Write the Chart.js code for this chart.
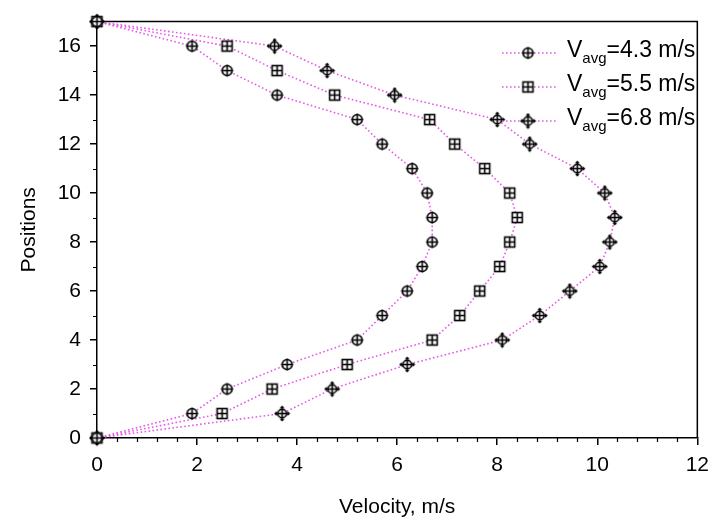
<!DOCTYPE html>
<html lang="en">
<head>
<meta charset="UTF-8">
<title>Velocity profiles</title>
<script src="https://cdn.jsdelivr.net/npm/chart.js"></script>
<style>
    body { margin: 0; background: #fff; }
    canvas { display: block; }
</style>
</head>
<body>
<canvas id="profileChart" width="717" height="525"></canvas>
<script>
// positions along the section (y axis)
const positions = [0, 1, 2, 3, 4, 5, 6, 7, 8, 9, 10, 11, 12, 13, 14, 15, 16, 17];

// velocity read for each position, one array per average speed
const vel43 = [0, 1.9, 2.6, 3.8, 5.2, 5.7, 6.2, 6.5, 6.7, 6.7, 6.6, 6.3, 5.7, 5.2, 3.6, 2.6, 1.9, 0];
const vel55 = [0, 2.5, 3.5, 5.0, 6.7, 7.25, 7.65, 8.05, 8.25, 8.4, 8.25, 7.75, 7.15, 6.65, 4.75, 3.6, 2.6, 0];
const vel68 = [0, 3.7, 4.7, 6.2, 8.1, 8.85, 9.45, 10.05, 10.25, 10.35, 10.15, 9.6, 8.65, 8.0, 5.95, 4.6, 3.55, 0];

const seriesAvg = ['4.3', '5.5', '6.8'];

const xTicks = [0, 2, 4, 6, 8, 10, 12];
const yTicks = [0, 2, 4, 6, 8, 10, 12, 14, 16];

const FONT = "'Liberation Sans', Arial, sans-serif";
const LINE_COLOR = '#e65ae6';

// marker images
function makeMarker(kind) {
    const c = document.createElement('canvas');
    c.width = 17;
    c.height = 17;
    const g = c.getContext('2d');
    g.translate(8.5, 8.5);
    g.strokeStyle = '#000';
    g.fillStyle = '#fff';
    g.lineWidth = 1.6;
    if (kind === 'square') {
        g.fillRect(-5, -5, 10, 10);
        g.strokeRect(-5, -5, 10, 10);
        g.beginPath();
        g.moveTo(-5, 0); g.lineTo(5, 0);
        g.moveTo(0, -5); g.lineTo(0, 5);
        g.stroke();
    } else {
        const r = kind === 'circle' ? 5 : 4.3;
        const arm = kind === 'circle' ? 6 : 7.2;
        g.beginPath();
        g.arc(0, 0, r, 0, Math.PI * 2);
        g.fill();
        g.stroke();
        g.beginPath();
        g.moveTo(-arm, 0); g.lineTo(arm, 0);
        g.moveTo(0, -arm); g.lineTo(0, arm);
        g.stroke();
        if (kind === 'arrow') {
            g.fillStyle = '#000';
            for (let k = 0; k < 4; k++) {
                g.save();
                g.rotate(k * Math.PI / 2);
                g.beginPath();
                g.moveTo(arm + 0.8, 0);
                g.lineTo(arm - 2, -2.4);
                g.lineTo(arm - 2, 2.4);
                g.closePath();
                g.fill();
                g.restore();
            }
        }
    }
    return c;
}

const markers = [makeMarker('circle'), makeMarker('square'), makeMarker('arrow')];

function toPoints(vals) {
    return vals.map((v, i) => ({ x: v, y: positions[i] }));
}

function makeDataset(vals, idx) {
    return {
        label: 'Vavg=' + seriesAvg[idx] + ' m/s',
        data: toPoints(vals),
        showLine: true,
        borderColor: LINE_COLOR,
        borderWidth: 1.6,
        borderDash: [1.6, 2.4],
        tension: 0,
        pointStyle: markers[idx],
        pointRadius: 6,
        clip: false
    };
}

// frame on top/right plus minor ticks
const framePlugin = {
    id: 'frame',
    beforeDatasetsDraw(chart) {
        const { ctx, chartArea: a, scales } = chart;
        ctx.save();
        ctx.strokeStyle = '#000';
        ctx.lineWidth = 1.5;
        ctx.beginPath();
        ctx.moveTo(a.left, a.top);
        ctx.lineTo(a.right, a.top);
        ctx.lineTo(a.right, a.bottom);
        ctx.stroke();

        ctx.lineWidth = 1.2;
        ctx.beginPath();
        for (let v = 0.4; v < 12; v += 0.4) {
            if (Math.abs(v / 2 - Math.round(v / 2)) < 0.01) continue;
            const px = Math.round(scales.x.getPixelForValue(v)) + 0.5;
            ctx.moveTo(px, a.bottom);
            ctx.lineTo(px, a.bottom + 4);
        }
        for (let v = 1; v < 17; v += 2) {
            const py = Math.round(scales.y.getPixelForValue(v)) + 0.5;
            ctx.moveTo(a.left, py);
            ctx.lineTo(a.left - 4, py);
        }
        ctx.stroke();
        ctx.restore();
    }
};

// legend with subscript text
const legendPlugin = {
    id: 'subLegend',
    afterDraw(chart) {
        const { ctx } = chart;
        const rowTop = 53, rowGap = 34;
        ctx.save();
        chart.data.datasets.forEach((ds, i) => {
            const y = rowTop + i * rowGap;
            ctx.strokeStyle = LINE_COLOR;
            ctx.lineWidth = 1.6;
            ctx.setLineDash([1.6, 2.4]);
            ctx.beginPath();
            ctx.moveTo(502, y);
            ctx.lineTo(556, y);
            ctx.stroke();
            ctx.setLineDash([]);
            const m = ds.pointStyle;
            ctx.drawImage(m, 528 - m.width / 2, y - m.height / 2);

            ctx.fillStyle = '#000';
            ctx.textBaseline = 'alphabetic';
            ctx.font = '23px ' + FONT;
            let x = 567;
            ctx.fillText('V', x, y + 4);
            x += ctx.measureText('V').width;
            ctx.font = '15px ' + FONT;
            ctx.fillText('avg', x, y + 10);
            x += ctx.measureText('avg').width;
            ctx.font = '23px ' + FONT;
            ctx.fillText('=' + seriesAvg[i] + ' m/s', x, y + 4);
        });
        ctx.restore();
    }
};

const axisFont = { family: FONT, size: 21 };

new Chart(document.getElementById('profileChart'), {
    type: 'scatter',
    data: {
        datasets: [makeDataset(vel43, 0), makeDataset(vel55, 1), makeDataset(vel68, 2)]
    },
    options: {
        responsive: false,
        animation: false,
        layout: { padding: { top: 17, right: 12, left: 0, bottom: 0 } },
        plugins: {
            legend: { display: false },
            tooltip: { enabled: false }
        },
        scales: {
            x: {
                type: 'linear',
                min: 0,
                max: 12,
                afterBuildTicks: s => { s.ticks = xTicks.map(v => ({ value: v })); },
                afterFit: s => { s.height = 87; },
                ticks: { color: '#000', font: axisFont, padding: 8, maxRotation: 0 },
                grid: { drawOnChartArea: false, tickLength: 7, color: '#000', lineWidth: 1.5 },
                border: { color: '#000', width: 1.5 },
                title: { display: true, text: 'Velocity, m/s', color: '#000', font: axisFont, padding: { top: 0, bottom: 5 } }
            },
            y: {
                type: 'linear',
                min: 0,
                max: 17,
                afterBuildTicks: s => { s.ticks = yTicks.map(v => ({ value: v })); },
                afterFit: s => { s.width = 97; },
                ticks: { color: '#000', font: axisFont, padding: 9 },
                grid: { drawOnChartArea: false, tickLength: 7, color: '#000', lineWidth: 1.5 },
                border: { color: '#000', width: 1.5 },
                title: { display: true, text: 'Positions', color: '#000', font: axisFont, padding: { top: 17, bottom: 0 } }
            }
        }
    },
    plugins: [framePlugin, legendPlugin]
});
</script>
</body>
</html>
